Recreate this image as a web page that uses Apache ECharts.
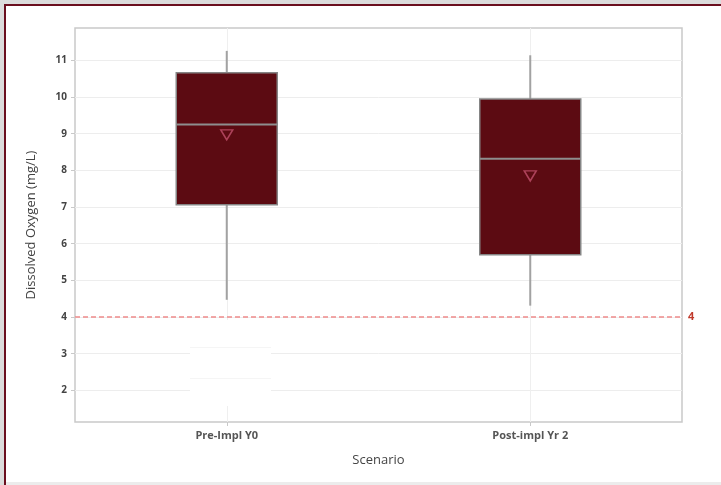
<!DOCTYPE html>
<html>
<head>
<meta charset="utf-8">
<script src="https://cdn.jsdelivr.net/npm/echarts@6/dist/echarts.min.js"></script>
<style>
  html, body { margin: 0; padding: 0; background: #fff; }
  #chart { width: 721px; height: 485px; }
</style>
</head>
<body>
<div id="chart"></div>
<script>
// Dissolved oxygen by scenario: box statistics, means and the 4 mg/L threshold
const scenarios = ['Pre-Impl Y0', 'Post-impl Yr 2'];
// [whisker low, Q1, median, Q3, whisker high]
const boxStats = [
  [4.47, 7.06, 9.25, 10.66, 11.26],
  [4.31, 5.70, 8.32, 9.95, 11.14]
];
const means = [8.97, 7.85];
const threshold = 4;
const yTicks = [2, 3, 4, 5, 6, 7, 8, 9, 10, 11];

const chart = echarts.init(document.getElementById('chart'), null, { renderer: 'canvas' });

const font = '"Open Sans", "Noto Sans", sans-serif';
const BOX_W = 101;

// Box-and-whisker glyph without whisker caps
function renderBox(params, api) {
  const i = api.value(0);
  const lo = api.coord([i, api.value(1)]);
  const q1 = api.coord([i, api.value(2)]);
  const med = api.coord([i, api.value(3)]);
  const q3 = api.coord([i, api.value(4)]);
  const hi = api.coord([i, api.value(5)]);
  const x = lo[0];
  const half = BOX_W / 2;
  const whisker = { stroke: '#a2a2a2', lineWidth: 2 };
  return {
    type: 'group',
    children: [
      { type: 'line', shape: { x1: x, y1: hi[1], x2: x, y2: q3[1] }, style: whisker },
      { type: 'line', shape: { x1: x, y1: q1[1], x2: x, y2: lo[1] }, style: whisker },
      {
        type: 'rect',
        shape: { x: x - half, y: q3[1], width: BOX_W, height: q1[1] - q3[1] },
        style: { fill: '#5c0b12', stroke: '#858585', lineWidth: 1.5 }
      },
      {
        type: 'line',
        shape: { x1: x - half, y1: med[1], x2: x + half, y2: med[1] },
        style: { stroke: '#8e8e8e', lineWidth: 2 }
      }
    ]
  };
}

chart.setOption({
  animation: false,
  backgroundColor: '#ffffff',
  grid: {
    left: 75, right: 39, top: 28, bottom: 63,
    show: true, borderColor: '#c9c9c9', borderWidth: 1.5, backgroundColor: 'transparent'
  },
  xAxis: {
    type: 'category',
    data: scenarios,
    name: 'Scenario',
    nameLocation: 'middle',
    nameGap: 32,
    nameTextStyle: { fontFamily: font, fontSize: 13, color: '#444' },
    axisLine: { show: false },
    axisTick: { show: true, alignWithLabel: true, length: 4, lineStyle: { color: '#c9c9c9' } },
    axisLabel: { fontFamily: font, fontSize: 11, fontWeight: 'bold', color: '#555', margin: 8 },
    splitLine: { show: false }
  },
  yAxis: {
    type: 'value',
    min: 1.136,
    max: 11.884,
    interval: 1,
    name: 'Dissolved Oxygen (mg/L)',
    nameLocation: 'middle',
    nameGap: 37,
    nameRotate: 90,
    nameTextStyle: { fontFamily: font, fontSize: 13, color: '#444' },
    axisLine: { show: false },
    axisTick: { show: true, length: 4, lineStyle: { color: '#c9c9c9' }, customValues: yTicks },
    axisLabel: {
      fontFamily: font, fontSize: 10, fontWeight: 'bold', color: '#444', margin: 8,
      customValues: yTicks
    },
    splitLine: { show: true, lineStyle: { color: '#ededed', width: 1 } }
  },
  series: [
    {
      // vertical guide lines through each scenario
      type: 'line',
      data: [],
      silent: true,
      z: 1,
      markLine: {
        silent: true,
        z: 1,
        symbol: ['none', 'none'],
        label: { show: false },
        lineStyle: { color: '#efefef', type: 'solid', width: 1 },
        data: scenarios.map(s => ({ xAxis: s }))
      }
    },
    {
      type: 'custom',
      renderItem: renderBox,
      data: boxStats.map((b, i) => [i].concat(b)),
      encode: { x: 0, y: [1, 2, 3, 4, 5] },
      z: 3
    },
    {
      type: 'scatter',
      data: means,
      symbol: 'triangle',
      symbolRotate: 180,
      symbolSize: [12, 10],
      itemStyle: { color: 'rgba(0,0,0,0)', borderColor: '#c0506b', borderWidth: 1.5 },
      z: 4,
      markLine: {
        silent: true,
        z: 5,
        symbol: ['none', 'none'],
        data: [{ yAxis: threshold }],
        lineStyle: { color: '#ee8a8a', type: [5, 3], width: 1.5 },
        label: {
          show: true, position: 'end', formatter: String(threshold),
          color: '#c0392b', fontFamily: font, fontSize: 11, fontWeight: 'bold', distance: 6
        }
      }
    }
  ],
  graphic: [
    // frame edges
    { type: 'rect', shape: { x: 0, y: 0, width: 721, height: 4 }, style: { fill: '#dcdcdc' }, silent: true },
    { type: 'rect', shape: { x: 0, y: 0, width: 4, height: 485 }, style: { fill: '#dcdcdc' }, silent: true },
    { type: 'rect', shape: { x: 4, y: 4, width: 717, height: 2 }, style: { fill: '#6b0f1f' }, silent: true },
    { type: 'rect', shape: { x: 4, y: 4, width: 2, height: 481 }, style: { fill: '#6b0f1f' }, silent: true },
    { type: 'rect', shape: { x: 6, y: 482, width: 715, height: 3 }, style: { fill: '#ececec' }, silent: true },
    // blank patch below the first box
    { type: 'rect', shape: { x: 190, y: 320, width: 81, height: 86 }, style: { fill: '#ffffff' }, z: 2, silent: true },
    { type: 'line', shape: { x1: 190, y1: 347.5, x2: 271, y2: 347.5 }, style: { stroke: '#f5f5f5', lineWidth: 1 }, z: 2, silent: true },
    { type: 'line', shape: { x1: 190, y1: 378.5, x2: 271, y2: 378.5 }, style: { stroke: '#f5f5f5', lineWidth: 1 }, z: 2, silent: true }
  ]
});
</script>
</body>
</html>
